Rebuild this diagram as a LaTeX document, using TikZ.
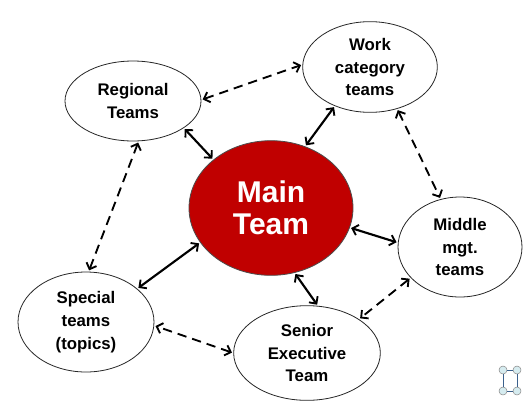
\documentclass[tikz,border=0pt]{standalone}
\usepackage{fontspec}
\setmainfont{Liberation Sans}
\usepackage{tikz}
\usepgflibrary{arrows.meta}
\usetikzlibrary{shapes.geometric}

\definecolor{mainred}{RGB}{192,0,0}
\definecolor{iconfill}{RGB}{214,236,240}
\definecolor{iconline}{RGB}{58,96,140}

\begin{document}
\begin{tikzpicture}[
  x=0.75pt, y=-0.75pt,
  team/.style={
      ellipse,
      draw=black!85,
      line width=0.6pt,
      fill=white,
      inner sep=0pt,
      align=center,
      font=\bfseries\fontsize{12.6}{17}\selectfont
    },
  main/.style={
      team,
      fill=mainred,
      draw=black!70,
      text=white,
      font=\bfseries\fontsize{22.5}{24}\selectfont
    },
  link/.style={
      arrows = {Straight Barb[length=4pt,width=8pt,line width=1.4pt]-Straight Barb[length=4pt,width=8pt,line width=1.4pt]},
      line width=1.6pt,
      shorten >= 1pt,
      shorten <= 1pt
    },
  peer/.style={
      link,
      line width=1.4pt,
      dash pattern=on 7pt off 4.5pt
    },
  knob/.style={
      circle,
      inner sep=0pt,
      minimum size=6pt,
      draw=black!45,
      line width=0.4pt,
      fill=iconfill
    }]
  \useasboundingbox (0,0) rectangle (531,404);

  \node [main, minimum width=123pt, minimum height=101pt] (mainteam) at (271,208) {Main\\Team};
  \node [team, minimum width=102pt, minimum height=60pt] (regional) at (133,101) {Regional\\Teams};
  \node [team, minimum width=101pt, minimum height=68pt] (work) at (370,67) {Work\\category\\teams};
  \node [team, minimum width=93pt, minimum height=75pt] (middle) at (460,247) {Middle\\mgt.\\teams};
  \node [team, minimum width=110pt, minimum height=71pt] (senior) at (307,353) {Senior\\Executive\\Team};
  \node [team, minimum width=102pt, minimum height=75pt] (special) at (86,322) {Special\\teams\\(topics)};

  % spokes to the main team
  \draw [link] (regional.-28) -- (mainteam.140);
  \draw [link] (work.-132) -- (mainteam.61);
  \draw [link] (mainteam.-14) -- (middle.176);
  \draw [link] (mainteam.-70) -- (senior.77);
  \draw [link] (mainteam.-154) -- (special.33);

  % ring between the teams
  \draw [peer] (regional.1) -- (work.178);
  \draw [peer] (work.-57) -- (middle.112);
  \draw [peer] (middle.-148) -- (senior.33);
  \draw [peer] (senior.180) -- (special.-3);
  \draw [peer] (regional.-82) -- (special.87);

  \begin{scope}
    \node [knob] (k1) at (503,370) {};
    \node [knob] (k2) at (517,370) {};
    \node [knob] (k3) at (517,391) {};
    \node [knob] (k4) at (503,391) {};
    \draw [iconline, line width=0.6pt] (k1) -- (k2) -- (k3) -- (k4) -- (k1);
  \end{scope}
\end{tikzpicture}
\end{document}
